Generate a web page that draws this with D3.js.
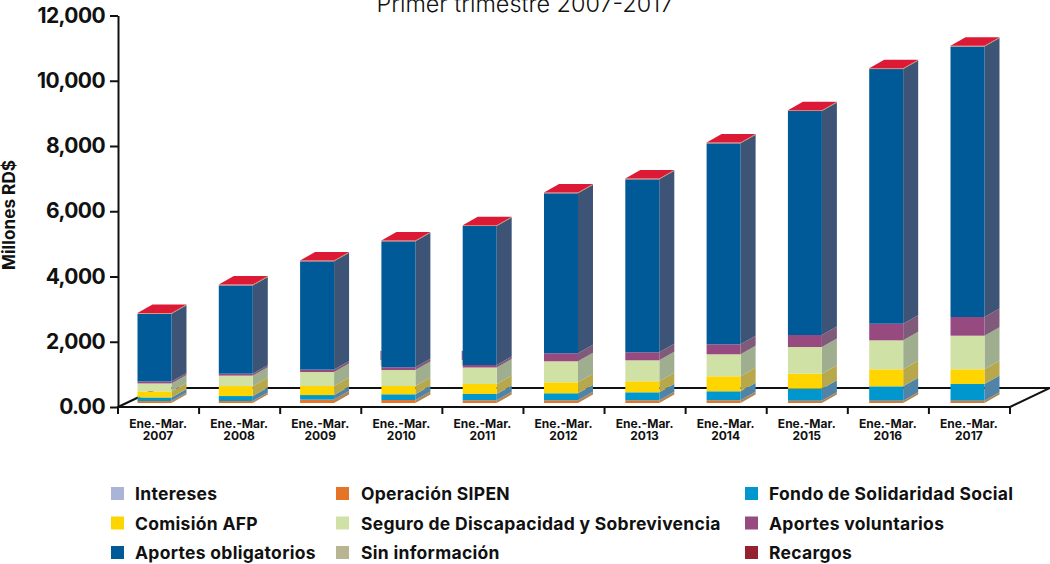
<!DOCTYPE html>
<html><head><meta charset="utf-8">
<script src="https://cdn.jsdelivr.net/npm/d3@7"></script>
<style>html,body{margin:0;padding:0;background:#fff}svg{display:block}text{font-family:Inter,sans-serif;fill:#111}</style>
</head><body><svg id="c" width="1050" height="564"></svg>
<script>
const categories=["2007","2008","2009","2010","2011","2012","2013","2014","2015","2016","2017"];
const operacion=[60,60,104,92,83,83,83,83,70,70,70];
const fondo=[110,153,140,175,193,215,245,276,368,441,512];
const comision=[185,306,276,254,306,337,337,460,460,521,451];
const seguro=[245,320,429,490,506,644,644,674,818,889,1030];
const voluntarios=[60,60,74,83,77,245,245,306,368,509,573];
const obligatorios=[2075,2706,3320,3862,4260,4904,5302,6160,6866,7806,8291];
const intereses=[25,25,25,25,25,25,25,25,25,25,25];
const yTicks=[0,2000,4000,6000,8000,10000,12000];
const stackOrder=[["Operación SIPEN",operacion,"#e57426","#b5854e"],["Fondo de Solidaridad Social",fondo,"#0097cf","#4f84a8"],["Comisión AFP",comision,"#ffd500","#b8a84c"],["Seguro de Discapacidad y Sobrevivencia",seguro,"#d0e1a6","#9fae8f"],["Aportes voluntarios",voluntarios,"#964a80","#7f5a7a"],["Aportes obligatorios",obligatorios,"#005a97","#3d5476"],["Intereses",intereses,"#e8846a","#a98a5c"]];
const legendRows=[[["Intereses","#aab4d6"],["Operación SIPEN","#e57426"],["Fondo de Solidaridad Social","#0097cf"]],[["Comisión AFP","#ffd500"],["Seguro de Discapacidad y Sobrevivencia","#d0e1a6"],["Aportes voluntarios","#964a80"]],[["Aportes obligatorios","#005a97"],["Sin información","#b8b592"],["Recargos","#96212f"]]];
const capColor="#dd1a36";
const svg=d3.select("#c");
const y=d3.scaleLinear().domain([0,12000]).range([407,15.5]);
const x=d3.scaleBand().domain(categories).range([137.5,984.5]).paddingInner(0.582).paddingOuter(0);
const dx=15,dy=-8.5,base=4;
const pts=a=>a.map(p=>p.join(",")).join(" ");
function line(x1,y1,x2,y2){svg.append("line").attr("x1",x1).attr("y1",y1).attr("x2",x2).attr("y2",y2).attr("stroke","#111").attr("stroke-width",2);}
line(118,407,158,388);line(157,388,1050,388);line(1050,388,1010,407);
const ghostYears=["2010","2011"];
categories.forEach((c,i)=>{
  let acc=0;const bx=x(c),w=x.bandwidth();
  if(ghostYears.includes(c)){
    svg.append("rect").attr("x",bx-1).attr("y",y(1600)-base).attr("width",1.2).attr("height",y(1320)-y(1600)).attr("fill","#964a80");
    svg.append("rect").attr("x",bx-1).attr("y",y(1320)-base).attr("width",1.2).attr("height",y(1150)-y(1320)).attr("fill","#d0e1a6");
  }
  stackOrder.forEach(([n,vals,col,side])=>{
    const y0=y(acc)-base,yt=y(acc+vals[i])-base;acc+=vals[i];
    svg.append("polygon").attr("points",pts([[bx+w,y0],[bx+w+dx,y0+dy],[bx+w+dx,yt+dy],[bx+w,yt]])).attr("fill",side);
    svg.append("rect").attr("x",bx).attr("y",yt).attr("width",w).attr("height",y0-yt).attr("fill",col);
  });
  const yt=y(acc)-base;
  svg.append("polygon").attr("points",pts([[bx,yt],[bx+dx,yt+dy],[bx+w+dx,yt+dy],[bx+w,yt]])).attr("fill",capColor);
});
const ya=d3.axisLeft(y).tickValues(yTicks).tickFormat(d=>d===0?"0.00":d3.format(",")(d)).tickSize(8).tickSizeOuter(0).tickPadding(5);
const gy=svg.append("g").attr("transform","translate(118,0)").call(ya);
gy.selectAll("line,path").attr("stroke","#111").attr("stroke-width",2);
gy.selectAll("text").attr("font-size",21).attr("font-weight",700).attr("letter-spacing",-0.6);
line(117,407,1011,407);
const step=(1010-118)/categories.length;
categories.forEach((c,i)=>{
  const cx=118+step*(i+0.5)-0.5;
  line(118+step*i,407,118+step*i,414);
  const t=svg.append("text").attr("x",cx).attr("y",428).attr("text-anchor","middle").attr("font-size",12).attr("font-weight",700);
  t.append("tspan").attr("x",cx).text("Ene.-Mar.");
  t.append("tspan").attr("x",cx).attr("dy",12).text(c);
});
line(1010,407,1010,414);
svg.append("text").attr("transform","translate(15,215) rotate(-90)").attr("text-anchor","middle").attr("font-size",17.2).attr("font-weight",700).text("Millones RD$");
svg.append("text").attr("x",525).attr("y",12).attr("text-anchor","middle").attr("font-size",23.4).attr("font-weight",300).text("Primer trimestre 2007-2017");
const lx=[111,336,745],ly=[487,516.5,546],tx=[135,361,769];
const base2=[500,530,559];
legendRows.forEach((r,ri)=>r.forEach(([n,col],ci)=>{
  svg.append("rect").attr("x",lx[ci]).attr("y",ly[ri]).attr("width",13).attr("height",13).attr("fill",col);
  svg.append("text").attr("x",tx[ci]).attr("y",base2[ri]).attr("font-size",17.5).attr("font-weight",700).attr("letter-spacing",0.3).text(n);
}));
</script></body></html>
